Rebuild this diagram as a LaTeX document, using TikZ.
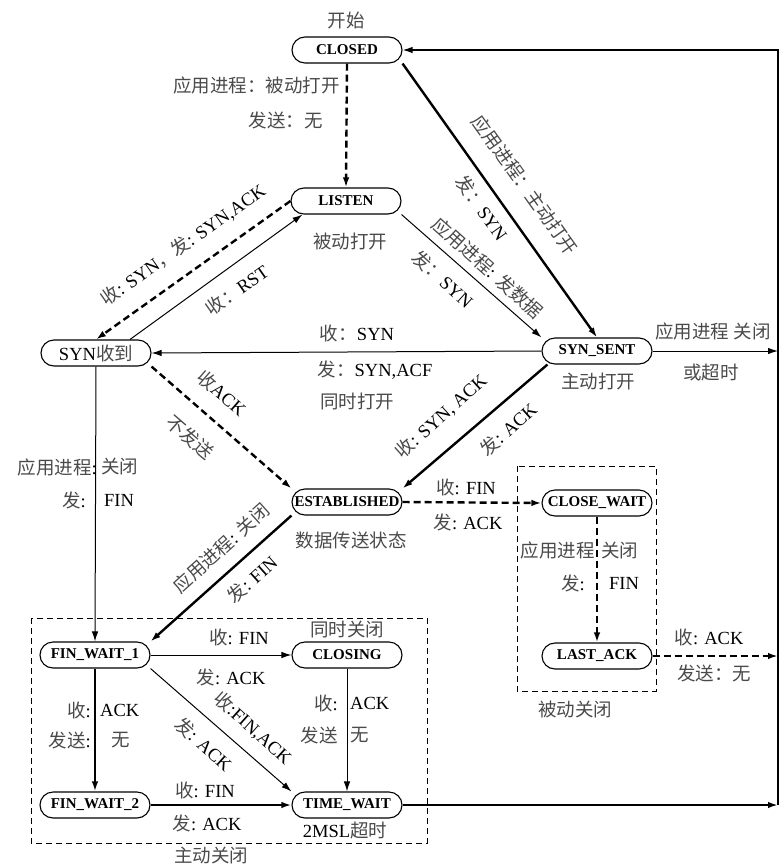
\documentclass[tikz,border=0pt]{standalone}
\usepackage{fontspec}
\setmainfont{Liberation Serif}
\newfontfamily\cjk{Noto Sans CJK SC}
\usetikzlibrary{arrows.meta}
\definecolor{zhgray}{HTML}{4A4A4A}
\newcommand\zh[1]{{\cjk\color{zhgray}#1}}
\newcommand\lblfont{\fontsize{18.5}{21}\selectfont}
\newcommand\stfont{\fontsize{15}{17}\selectfont\bfseries}
\tikzset{
  state/.style={draw, line width=1.1pt, rounded corners=13pt, minimum width=110pt,
    minimum height=26pt, inner sep=0pt, font=\stfont, fill=white},
  lbl/.style={inner sep=0pt, font=\lblfont},
  tip/.style={-{Latex[length=10pt,width=6.5pt]}},
  thinE/.style={tip, line width=1pt},
  thickE/.style={tip, line width=2.4pt},
  dashE/.style={tip, line width=2.4pt, dash pattern=on 7pt off 4pt},
  boxE/.style={line width=1pt, dash pattern=on 6pt off 4pt},
}
\begin{document}
\begin{tikzpicture}[x=1pt,y=-1pt]
\useasboundingbox (0,0) rectangle (780,865);
% dashed group boxes
\draw[boxE] (31,618) rectangle (427,843);
\draw[boxE] (517,466) rectangle (656,691);
% states
\node[state] (closed) at (347,50) {CLOSED};
\node[state] (listen) at (346,201) {LISTEN};
\node[state, font=\lblfont] (synrcvd) at (96,353) {SYN\zh{收到}};
\node[state] (synsent) at (597,351) {SYN\_SENT};
\node[state] (est) at (347,502) {ESTABLISHED};
\node[state] (closewait) at (597,503) {CLOSE\_WAIT};
\node[state] (lastack) at (597,656) {LAST\_ACK};
\node[state] (fw1) at (95,655) {FIN\_WAIT\_1};
\node[state] (closing) at (347,655) {CLOSING};
\node[state] (fw2) at (95,805) {FIN\_WAIT\_2};
\node[state] (tw) at (347,805) {TIME\_WAIT};
\coordinate (rtop) at (778,50);
\coordinate (rbot) at (778,805);
% connectors
\draw[dashE] (closed.south) -- (listen.north);
\draw[thickE] (closed.south east) -- (synsent.north);
\draw[thinE] (listen.south east) -- (synsent.north west);
\draw[dashE] (listen.west) -- (synrcvd.north);
\draw[thinE] ([xshift=34pt]synrcvd.north) -- ([xshift=12pt]listen.south west);
\draw[thinE] (synsent.west) -- (synrcvd.east);
\draw[dashE] (synrcvd.south east) -- (est.north west);
\draw[thickE] ([xshift=6pt]synsent.south west) -- (est.north east);
\draw[thinE] (synrcvd.south) -- (fw1.north);
\draw[thickE] (est.south west) -- (fw1.north east);
\draw[dashE] (est.east) -- (closewait.west);
\draw[dashE] (closewait.south) -- (lastack.north);
\draw[dashE] (lastack.east) -- (lastack.east -| rbot);
\draw[thinE] (fw1.east) -- (closing.west);
\draw[thickE] (fw1.south) -- (fw2.north);
\draw[thinE] (fw1.south east) -- (tw.north west);
\draw[thinE] (closing.south) -- (tw.north);
\draw[thickE] (fw2.east) -- (tw.west);
\draw[thickE] (tw.east) -- (rbot);
\draw[thinE] (synsent.east) -- (synsent.east -| rbot);
\draw[thinE, line width=1.3pt] (rbot) -- (rtop) -- (closed.east);
% labels
\node[lbl] (l1) at (346,20) {\zh{开始}};
\node[lbl, anchor=east] (l2) at (340,85) {\zh{应用进程：被动打开}};
\node[lbl, anchor=east] (l3) at (323,120) {\zh{发送：无}};
\node[lbl] (l4) at (350,242) {\zh{被动打开}};
\node[lbl, rotate=-54.5] (l5) at (525,185) {\zh{应用进程：主动打开}};
\node[lbl, rotate=-54.5] (l6) at (482,208) {\zh{发：}SYN};
\node[lbl, rotate=-42] (l7) at (488,268) {\zh{应用进程}: \zh{发数据}};
\node[lbl, rotate=-42] (l8) at (443,279) {\zh{发：}SYN};
\node[lbl, rotate=35] (l9) at (183,245) {\zh{收}: SYN\zh{，发}: SYN,ACK};
\node[lbl, rotate=35] (l10) at (237,290) {\zh{收：}RST};
\node[lbl] (l11) at (357,333) {\zh{收：}SYN};
\node[lbl] (l12) at (375,370) {\zh{发：}SYN,ACF};
\node[lbl] (l13) at (357,402) {\zh{同时打开}};
\node[lbl] (l14) at (713,331) {\zh{应用进程 关闭}};
\node[lbl] (l15) at (711,372) {\zh{或超时}};
\node[lbl] (l16) at (598,382) {\zh{主动打开}};
\node[lbl, rotate=-41] (l17) at (222,393) {\zh{收}ACK};
\node[lbl, rotate=-41] (l18) at (190,437) {\zh{不发送}};
\node[lbl, rotate=42] (l19) at (441,416) {\zh{收}: SYN, ACK};
\node[lbl, rotate=42] (l20) at (508,429) {\zh{发}: ACK};
\node[lbl, anchor=east] (l21) at (97,467) {\zh{应用进程}:};
\node[lbl, anchor=west] (l22) at (101,467) {\zh{关闭}};
\node[lbl, anchor=east] (l23) at (86,500) {\zh{发}:};
\node[lbl, anchor=west] (l24) at (104,500) {FIN};
\node[lbl] (l25) at (351,540) {\zh{数据传送状态}};
\node[lbl, rotate=42] (l26) at (221,548) {\zh{应用进程}: \zh{关闭}};
\node[lbl, rotate=42] (l27) at (252,579) {\zh{发}: FIN};
\node[lbl] (l28) at (466,487) {\zh{收}: FIN};
\node[lbl] (l29) at (468,522) {\zh{发}: ACK};
\node[lbl, anchor=east] (l30) at (595,550) {\zh{应用进程}};
\node[lbl, anchor=west] (l31) at (601,550) {\zh{关闭}};
\node[lbl, anchor=east] (l32) at (585,583) {\zh{发}:};
\node[lbl, anchor=west] (l33) at (609,583) {FIN};
\node[lbl] (l34) at (709,637) {\zh{收}: ACK};
\node[lbl] (l35) at (714,673) {\zh{发送：无}};
\node[lbl] (l36) at (575,709) {\zh{被动关闭}};
\node[lbl] (l37) at (347,630) {\zh{同时关闭}};
\node[lbl] (l38) at (239,637) {\zh{收}: FIN};
\node[lbl] (l39) at (231,677) {\zh{发}: ACK};
\node[lbl, anchor=east] (l40) at (91,710) {\zh{收}:};
\node[lbl, anchor=west] (l41) at (100,710) {ACK};
\node[lbl, anchor=east] (l42) at (91,740) {\zh{发送}:};
\node[lbl, anchor=west] (l43) at (111,740) {\zh{无}};
\node[lbl, rotate=-42] (l44) at (253,728) {\zh{收}:FIN,ACK};
\node[lbl, rotate=-42] (l45) at (204,744) {\zh{发}: ACK};
\node[lbl, anchor=east] (l46) at (338,703) {\zh{收}:};
\node[lbl, anchor=west] (l47) at (350,703) {ACK};
\node[lbl, anchor=east] (l48) at (338,735) {\zh{发送}};
\node[lbl, anchor=west] (l49) at (350,735) {\zh{无}};
\node[lbl] (l50) at (205,790) {\zh{收}: FIN};
\node[lbl] (l51) at (207,823) {\zh{发}: ACK};
\node[lbl] (l52) at (345,830) {2MSL\zh{超时}};
\node[lbl] (l53) at (211,855) {\zh{主动关闭}};
\end{tikzpicture}
\end{document}
